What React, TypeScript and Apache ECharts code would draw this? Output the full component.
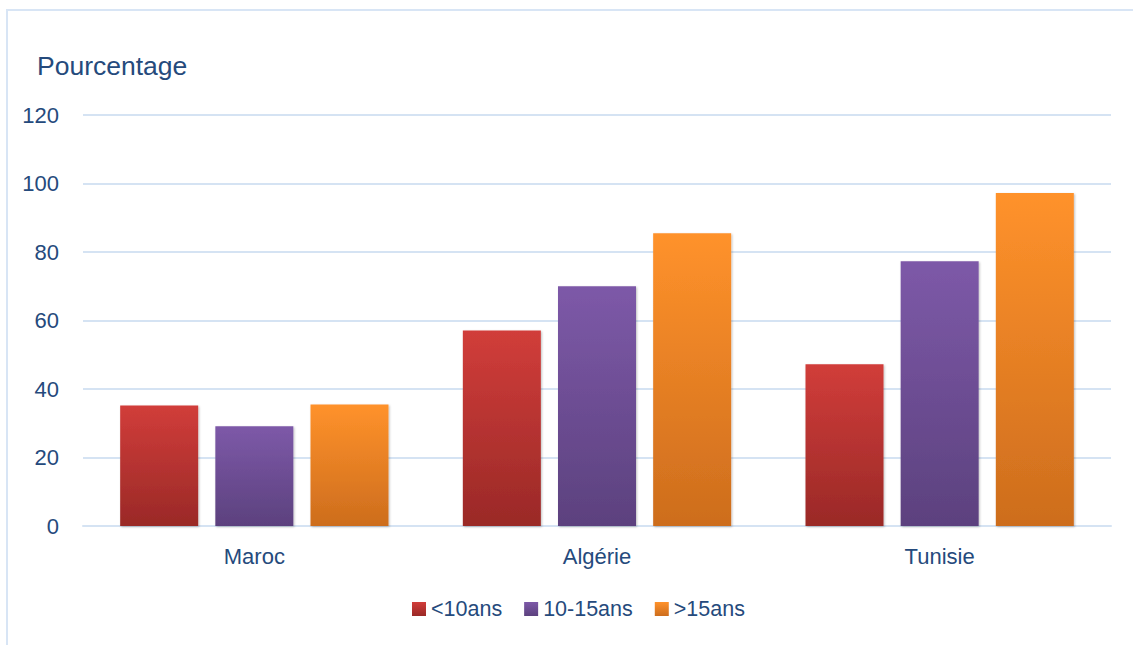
import React, { useEffect, useRef } from "react";
import * as echarts from "echarts";

// Pays comparés
const categories = ["Maroc", "Algérie", "Tunisie"];
// Pourcentage par tranche d'ancienneté
const seriesNames = ["<10ans", "10-15ans", ">15ans"];
const moinsDe10 = [35.2, 57.1, 47.2];
const de10a15 = [29.1, 70.0, 77.3];
const plusDe15 = [35.5, 85.5, 97.2];
const yTicks = { min: 0, max: 120, interval: 20 };

const TEXT = "#254A7C";
const FONT = "'Liberation Sans', Arial, sans-serif";

const grad = (top: string, bottom: string) =>
  new echarts.graphic.LinearGradient(0, 0, 0, 1, [
    { offset: 0, color: top },
    { offset: 1, color: bottom },
  ]);

export default function App() {
  const ref = useRef<HTMLDivElement>(null);

  useEffect(() => {
    if (!ref.current) return;
    const chart = echarts.init(ref.current, undefined, { renderer: "svg" });
    const colors = [
      grad("#D13D3A", "#9A2927"),
      grad("#7D59A8", "#5C417E"),
      grad("#FF922B", "#CD6D1D"),
    ];
    const values = [moinsDe10, de10a15, plusDe15];
    chart.setOption({
      animation: false,
      backgroundColor: "#ffffff",
      textStyle: { fontFamily: FONT },
      graphic: [
        {
          type: "rect",
          shape: { x: 7, y: 10, width: 1140, height: 660 },
          style: { fill: "none", stroke: "#D8E5F5", lineWidth: 2 },
          silent: true,
        },
        {
          type: "text",
          left: 37,
          top: 52,
          style: { text: "Pourcentage", fill: TEXT, font: `26.5px ${FONT}` },
        },
      ],
      legend: {
        bottom: 20,
        left: 407,
        itemWidth: 14,
        itemHeight: 14,
        itemGap: 22,
        icon: "rect",
        textStyle: { color: TEXT, fontSize: 21.5, fontFamily: FONT, padding: [0, 0, 0, 0] },
        data: seriesNames,
      },
      grid: { left: 83, right: 22, top: 115, bottom: 119, containLabel: false },
      xAxis: {
        type: "category",
        data: categories,
        axisLine: { show: true, lineStyle: { color: "#D5E3F3", width: 2 } },
        axisTick: { show: false },
        axisLabel: { color: TEXT, fontSize: 22, margin: 19, fontFamily: FONT },
      },
      yAxis: {
        type: "value",
        min: yTicks.min,
        max: yTicks.max,
        interval: yTicks.interval,
        axisLine: { show: false },
        axisTick: { show: false },
        splitLine: { lineStyle: { color: "#D5E3F3", width: 2 } },
        axisLabel: { color: TEXT, fontSize: 22, margin: 24, fontFamily: FONT },
      },
      series: seriesNames.map((name, i) => ({
        name,
        type: "bar",
        data: values[i],
        barWidth: 78,
        barGap: "22%",
        itemStyle: {
          color: colors[i],
          shadowColor: "rgba(0,0,0,0.25)",
          shadowBlur: 2,
          shadowOffsetX: 1,
          shadowOffsetY: 1,
        },
      })),
    });
    return () => chart.dispose();
  }, []);

  return (
    <div
      ref={ref}
      style={{ position: "fixed", left: 0, top: 0, width: 1133, height: 645 }}
    />
  );
}
